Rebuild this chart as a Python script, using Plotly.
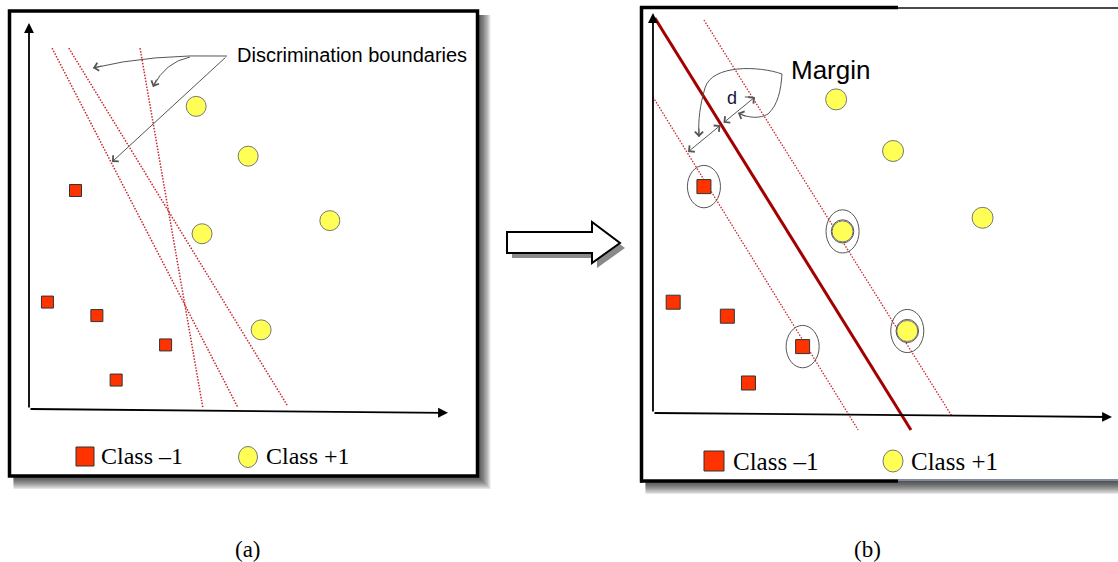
import plotly.graph_objects as go

W, H = 1118, 562

# Training samples (same set in both panels), feature units
neg_x = [11.1, 4.4, 16.2, 32.6, 20.8]
neg_y = [56.6, 27.7, 24.2, 16.6, 7.5]
pos_x = [39.9, 52.3, 41.3, 71.8, 55.4]
pos_y = [78.4, 65.5, 45.4, 48.8, 20.5]

# Panel (a): three candidate separating lines (top end -> bottom end)
cand_top_x = [5.5, 9.5, 26.5]
cand_top_y = [93.5, 93.5, 93.5]
cand_bot_x = [49.9, 61.6, 41.5]
cand_bot_y = [0.3, 1.0, 0.3]

# Panel (b): maximum-margin hyperplane and its two margin lines
hyper_x = [0.4, 56.2]
hyper_y = [98.75, -4.25]
margin_up_x = [11.1, 65.1]
margin_up_y = [98.25, -0.75]
margin_lo_x = [0.0, 44.7]
margin_lo_y = [79.0, -4.25]

# Support vectors (indices into the class lists)
sv_neg = [0, 3]
sv_pos = [2, 4]

legend_labels = ["Class \u20131", "Class +1"]
captions = ["(a)", "(b)"]

SQ_FILL = "#ff3300"
CI_FILL = "#ffff55"
DOT_RED = "#c8262b"
GRAY = "#555555"
SANS = "Liberation Sans, Arial, sans-serif"
SERIF = "Liberation Serif, Times New Roman, serif"


def pp(x, y):
    """Pixel position on the page -> paper coordinates string."""
    return f"{x / W:.5f},{1 - y / H:.5f}"


def px_x(x):
    return x / W


def px_y(y):
    return 1 - y / H


fig = go.Figure()

# ---- panel (a) ----
for i in range(len(cand_top_x)):
    fig.add_trace(go.Scatter(
        x=[cand_top_x[i], cand_bot_x[i]], y=[cand_top_y[i], cand_bot_y[i]],
        mode="lines", line=dict(color=DOT_RED, width=1.5, dash="1.5px,1.5px"),
        xaxis="x", yaxis="y", hoverinfo="skip"))

fig.add_trace(go.Scatter(
    x=neg_x, y=neg_y, mode="markers", xaxis="x", yaxis="y",
    marker=dict(symbol="square", size=12, color=SQ_FILL,
                line=dict(color="#333333", width=1))))
fig.add_trace(go.Scatter(
    x=pos_x, y=pos_y, mode="markers", xaxis="x", yaxis="y",
    marker=dict(symbol="circle", size=20, color=CI_FILL,
                line=dict(color="#777777", width=1))))

# ---- panel (b) ----
for lx, ly in [(margin_up_x, margin_up_y), (margin_lo_x, margin_lo_y)]:
    fig.add_trace(go.Scatter(
        x=lx, y=ly, mode="lines", xaxis="x2", yaxis="y2", hoverinfo="skip",
        line=dict(color=DOT_RED, width=1.3, dash="1.5px,1.5px")))
fig.add_trace(go.Scatter(
    x=hyper_x, y=hyper_y, mode="lines", xaxis="x2", yaxis="y2",
    hoverinfo="skip", line=dict(color="#a30000", width=3)))

fig.add_trace(go.Scatter(
    x=neg_x, y=neg_y, mode="markers", xaxis="x2", yaxis="y2",
    marker=dict(symbol="square", size=14, color=SQ_FILL,
                line=dict(color="#333333", width=1))))
fig.add_trace(go.Scatter(
    x=pos_x, y=pos_y, mode="markers", xaxis="x2", yaxis="y2",
    marker=dict(symbol="circle", size=21, color=CI_FILL,
                line=dict(color="#777777", width=1))))

shapes = []


def soft_shadow(x0, y0, x1, y1, spread=13, steps=10, alpha=0.1):
    for k in range(steps):
        s = spread * (k + 1) / steps
        shapes.append(dict(
            type="rect", xref="paper", yref="paper", layer="below",
            x0=px_x(x0 + 4), y0=px_y(y0 + 4), x1=px_x(x1 + s), y1=px_y(y1 + s),
            fillcolor=f"rgba(0,0,0,{alpha})", line=dict(width=0)))


# frame of panel (a)
A = (9.5, 11, 477.5, 476)
soft_shadow(*A)
shapes.append(dict(type="rect", xref="paper", yref="paper", layer="below",
                   x0=px_x(A[0]), y0=px_y(A[1]), x1=px_x(A[2]), y1=px_y(A[3]),
                   fillcolor="white", line=dict(color="black", width=3.5)))

# frame of panel (b) (its right side runs off the page)
B = (641.5, 7.5, 1130, 481)
soft_shadow(*B)
shapes.append(dict(type="rect", xref="paper", yref="paper", layer="below",
                   x0=px_x(B[0]), y0=px_y(B[1]), x1=1.0, y1=px_y(B[3]),
                   fillcolor="white", line=dict(width=0)))
for seg in [
    ((641.5, 6), (641.5, 482.5), "black", 3.5),
    ((640, 7.5), (898, 7.5), "black", 3.5),
    ((640, 481), (898, 481), "black", 3.5),
    ((898, 8), (1118, 8), "#4a4a4a", 2),
    ((898, 480), (1118, 480), "#7f8aa6", 2),
]:
    (xa, ya), (xb, yb), c, w = seg
    shapes.append(dict(type="line", xref="paper", yref="paper", layer="below",
                       x0=px_x(xa), y0=px_y(ya), x1=px_x(xb), y1=px_y(yb),
                       line=dict(color=c, width=w)))

# block arrow between the panels, with its drop shadow
arrow_pts = [(507, 232), (592, 232), (592, 222), (620, 243),
             (592, 263), (592, 253), (507, 253)]
for dx, fill, lw in [(5, "#8a8a8a", 0), (0, "white", 2)]:
    path = "M " + " L ".join(pp(x + dx, y + dx) for x, y in arrow_pts) + " Z"
    shapes.append(dict(type="path", xref="paper", yref="paper", path=path,
                       fillcolor=fill,
                       line=dict(color="black", width=lw)))

# hand-drawn pointers in panel (a)
shapes.append(dict(type="path", xref="x", yref="y",
                   path="M 47.26,91.45 Q 28.9,92.0 15.27,88.34",
                   line=dict(color=GRAY, width=1)))
shapes.append(dict(type="path", xref="x", yref="y",
                   path="M 38.42,91.19 Q 32.46,89.90 29.59,83.42",
                   line=dict(color=GRAY, width=1)))

# margin loop in panel (b)
shapes.append(dict(type="path", xref="x2", yref="y2",
                   path="M 28.10,84.75 C 23.31,86.75 12.85,87.25 11.33,81.25 "
                        "C 10.24,77.0 9.80,73.25 10.02,69.0",
                   line=dict(color=GRAY, width=1)))
shapes.append(dict(type="path", xref="x2", yref="y2",
                   path="M 28.10,84.75 C 27.89,80.75 27.23,77.0 25.05,74.75 "
                        "C 23.31,73.5 20.70,73.75 18.52,75.0",
                   line=dict(color=GRAY, width=1)))
shapes.append(dict(type="line", xref="x2", yref="y2",
                   x0=20.0, y0=79.0, x1=21.2, y1=79.0,
                   line=dict(color=GRAY, width=1)))

# rings around the support vectors
for i in sv_neg:
    shapes.append(dict(type="circle", xref="x2", yref="y2", layer="above",
                       x0=neg_x[i] - 3.6, x1=neg_x[i] + 3.6,
                       y0=neg_y[i] - 5.3, y1=neg_y[i] + 5.3,
                       line=dict(color="#555555", width=1)))
for i in sv_pos:
    for hw, hh in [(3.6, 5.4), (2.45, 2.9)]:
        shapes.append(dict(type="circle", xref="x2", yref="y2", layer="above",
                           x0=pos_x[i] - hw, x1=pos_x[i] + hw,
                           y0=pos_y[i] - hh, y1=pos_y[i] + hh,
                           line=dict(color="#555555", width=1)))

# legend keys
for (sx0, sy0, sx1, sy1), (cx, cy, rx, ry) in [
    ((76, 447, 94, 466), (248, 457, 9.5, 10.5)),
    ((704, 451, 724, 471), (893, 461, 10, 11)),
]:
    shapes.append(dict(type="rect", xref="paper", yref="paper",
                       x0=px_x(sx0), y0=px_y(sy0), x1=px_x(sx1), y1=px_y(sy1),
                       fillcolor=SQ_FILL, line=dict(color="#333333", width=1)))
    shapes.append(dict(type="circle", xref="paper", yref="paper",
                       x0=px_x(cx - rx), y0=px_y(cy - ry),
                       x1=px_x(cx + rx), y1=px_y(cy + ry),
                       fillcolor=CI_FILL, line=dict(color="#777777", width=1)))

annotations = []


def axis_arrow(xr, yr, x, y):
    annotations.append(dict(
        x=x, y=y, ax=0, ay=0, xref=xr, yref=yr, axref=xr, ayref=yr,
        text="", showarrow=True, arrowhead=2, arrowsize=1.1,
        arrowwidth=1.8, arrowcolor="black", standoff=0))


axis_arrow("x", "y", 100, -1.0)
axis_arrow("x", "y", 0, 100)
axis_arrow("x2", "y2", 100, -1.0)
axis_arrow("x2", "y2", 0, 100)

# arrowheads of the hand-drawn pointers
for xr, yr, x, y, ax, ay in [
    ("x", "y", 15.27, 88.34, 10, -2.4),
    ("x", "y", 29.59, 83.42, 4, -9),
    ("x2", "y2", 10.02, 69.0, 0, -10),
    ("x2", "y2", 18.52, 75.0, 9, 4),
]:
    annotations.append(dict(x=x, y=y, ax=ax, ay=ay, xref=xr, yref=yr,
                            text="", showarrow=True, arrowhead=4,
                            arrowsize=1.6, arrowwidth=1, arrowcolor=GRAY,
                            standoff=0))

# straight pointer to the left-most boundary
annotations.append(dict(x=19.8, y=64.0, ax=47.26, ay=91.45, xref="x", yref="y",
                        axref="x", ayref="y", text="", showarrow=True,
                        arrowhead=4, arrowsize=1.6, arrowwidth=1,
                        arrowcolor=GRAY, standoff=0))

# double-headed margin widths
for (x, y, ax, ay) in [(7.63, 65.25, 15.03, 72.25), (22.22, 79.0, 15.03, 72.25)]:
    annotations.append(dict(x=x, y=y, ax=ax, ay=ay, xref="x2", yref="y2",
                            axref="x2", ayref="y2", text="", showarrow=True,
                            arrowside="end+start", arrowhead=4,
                            startarrowhead=4, arrowsize=1.6, startarrowsize=1.6,
                            arrowwidth=1, arrowcolor=GRAY,
                            standoff=0, startstandoff=0))

# text labels
annotations.append(dict(x=px_x(235), y=px_y(55), xref="paper", yref="paper",
                        text="Discrimination boundaries", showarrow=False,
                        xanchor="left", yanchor="middle",
                        font=dict(family=SANS, size=20, color="black")))
annotations.append(dict(x=px_x(789), y=px_y(70), xref="paper", yref="paper",
                        text="Margin", showarrow=False,
                        xanchor="left", yanchor="middle",
                        font=dict(family=SANS, size=26, color="black")))
annotations.append(dict(x=17.2, y=78.8, xref="x2", yref="y2",
                        text="d", showarrow=False,
                        xanchor="center", yanchor="middle",
                        font=dict(family=SANS, size=18, color="#15153a")))

for tx, ty, label, size in [
    (99, 456, legend_labels[0], 24), (264, 456, legend_labels[1], 24),
    (731, 461, legend_labels[0], 25), (909, 461, legend_labels[1], 25),
]:
    annotations.append(dict(x=px_x(tx), y=px_y(ty), xref="paper", yref="paper",
                            text=label, showarrow=False,
                            xanchor="left", yanchor="middle",
                            font=dict(family=SERIF, size=size, color="black")))

for cx, label in [(248, captions[0]), (867, captions[1])]:
    annotations.append(dict(x=px_x(cx), y=px_y(549), xref="paper",
                            yref="paper", text=label, showarrow=False,
                            xanchor="center", yanchor="middle",
                            font=dict(family=SERIF, size=23, color="black")))

axis_style = dict(visible=False, fixedrange=True)
fig.update_layout(
    width=W, height=H, margin=dict(l=0, r=0, t=0, b=0),
    paper_bgcolor="white", plot_bgcolor="rgba(0,0,0,0)",
    showlegend=False,
    xaxis=dict(domain=[0.0072, 0.41945], range=[-5, 105], **axis_style),
    yaxis=dict(domain=[0.20356, 0.95907], range=[-10, 100], **axis_style),
    xaxis2=dict(domain=[0.57585, 0.99875], range=[-2, 101], anchor="y2",
                **axis_style),
    yaxis2=dict(domain=[0.19395, 0.97687], range=[-10, 100], anchor="x2",
                **axis_style),
    shapes=shapes, annotations=annotations,
)

fig.write_html("out.html")
